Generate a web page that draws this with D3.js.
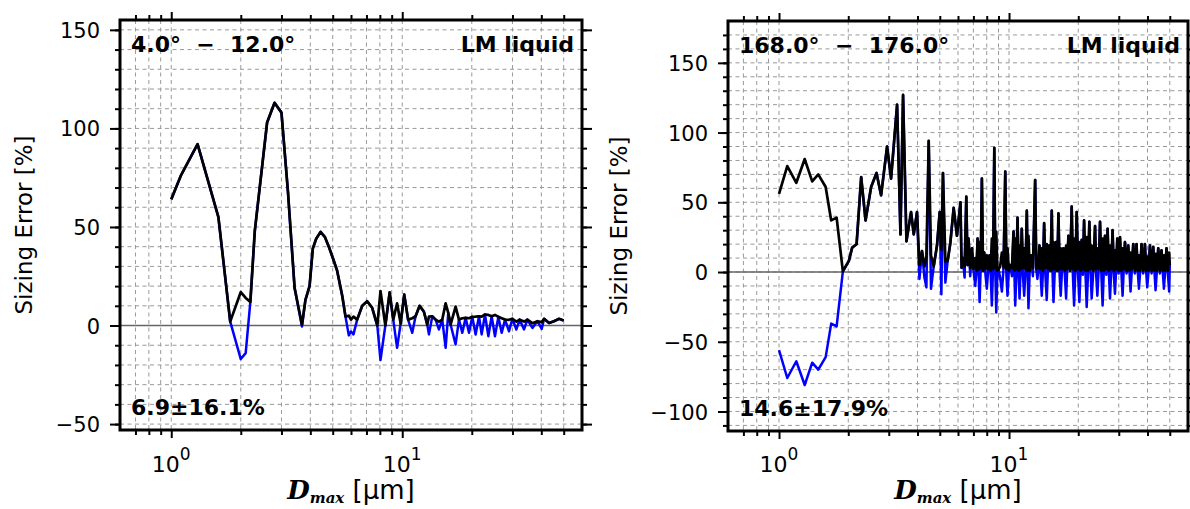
<!DOCTYPE html>
<html>
<head>
<meta charset="utf-8">
<script src="https://cdn.jsdelivr.net/npm/d3@7"></script>
<style>
  body { margin: 0; background: #fff; }
  svg { display: block; font-family: "DejaVu Sans", sans-serif; }
</style>
</head>
<body>
<svg id="chart" width="1190" height="509"></svg>
<script>
// ---- data: [Dmax (um), sizing error (%)] ----
const leftSeries = [
  [1.0,64],[1.1,76],[1.3,92],[1.6,55],[1.8,2],[2.0,-17],[2.1,-14],[2.2,12],[2.3,48],
  [2.6,103],[2.8,113],[3.0,108],[3.2,68],[3.42,19],[3.68,-0.5],[3.81,13],[3.97,20],
  [4.1,39],[4.24,44],[4.43,47.5],[4.62,45],[4.81,40],[5.05,33],[5.22,28],[5.5,15],
  [5.68,4.5],[5.87,-5],[6.0,-3],[6.15,-4.5],[6.38,3],[6.71,10],[7.05,12.3],[7.41,9],
  [7.8,0],[8.05,-17.5],[8.45,0],[8.82,16.8],[9.14,3],[9.5,-11.3],[9.84,1],[10.2,15.7],
  [10.6,3],[11.05,-3.7],[11.42,4.7],[11.89,10],[12.41,7],[12.83,0.5],[13.05,-4.5],
  [13.49,4.7],[13.94,3],[14.41,-2],[14.9,3],[15.41,-11.3],[15.82,6.4],[16.19,0.5],
  [17.02,-9.6],[17.6,3],[18.2,-3.7],[18.81,3.9],[19.45,-3.7],[20.1,4.4],[20.78,-4.5],
  [21.49,4.7],[22.07,-4.5],[22.81,5.6],[23.59,-5.4],[24.38,4.7],[25.2,-5.4],[26.06,4.4],
  [26.94,-3.7],[27.86,3],[28.99,-2.9],[29.97,3.4],[31.19,-2],[32.24,3],[33.67,-2],
  [34.81,3],[36.6,-1.2],[38.46,2.2],[40.16,-1.7],[41.11,3.4],[43.21,1.3],[45.42,2.2],
  [47.75,3.4],[50,2.5]
];

const rightSeries = [
  [1.0,-56],[1.086,-76],[1.189,-64],[1.293,-81],[1.394,-65],[1.481,-70],[1.595,-61],
  [1.686,-37],[1.78,-39],[1.895,0.5],[2.012,8],[2.08,17.5],[2.174,20],[2.276,68],
  [2.378,37],[2.514,61],[2.654,71],[2.778,55],[2.95,90],[3.07,67],[3.261,120],[3.373,27],
  [3.462,127],[3.581,22],[3.75,43],[3.853,27],[3.981,43],[4.078,-5],[4.185,15],[4.287,-4],
  [4.373,-11],[4.475,94],[4.578,-12],[4.704,4],[4.862,19],[4.995,43],[5.08,-16],[5.162,71],
  [5.287,-7.6],[5.41,8],[5.559,21],[5.745,46],[5.937,26],[6.15,50],[6.22,3],[6.3,10],
  [6.41,-4],[6.52,54],[6.6,5],[6.67,24],[6.78,-3],[6.9,17],[7.0,2],[7.13,-10],[7.22,1],
  [7.3,24],[7.38,-2],[7.45,-21.5],[7.53,3],[7.62,67],[7.71,1],[7.8,14],[7.9,-2],[8.01,-12],
  [8.12,2],[8.23,12],[8.32,-1],[8.42,-24],[8.52,2],[8.63,89],[8.71,3],[8.8,-29],[8.9,-1],
  [9.0,2],[9.15,-4],[9.31,-14],[9.47,3],[9.63,72],[9.74,-2],[9.85,-17],[9.98,1],[10.12,5],
  [10.3,-3],[10.46,29],[10.55,1],[10.64,-24],[10.76,-2],[10.89,39],[11.0,1],[11.11,-19],
  [11.23,2],[11.36,31],[11.5,-3],[11.64,-17],[11.8,2],[11.95,44],[12.05,-1],[12.15,-26],
  [12.3,1],[12.43,12],[12.7,-3],[12.99,66],[13.14,2],[13.29,-5],[13.42,3],[13.56,19],
  [13.72,-2],[13.88,-17],[14.05,1],[14.21,35],[14.4,-3],[14.59,-20],[14.76,2],[14.94,19],
  [15.14,1],[15.34,44],[15.47,-2],[15.61,-21.5],[15.82,2],[16.03,21.5],[16.21,1],[16.4,42],
  [16.59,-2],[16.78,-17],[17.0,2],[17.24,17],[17.47,-1],[17.71,-19],[17.9,2],[18.12,26],
  [18.42,1],[18.73,47],[18.95,-2],[19.18,-24],[19.43,1],[19.69,43],[19.96,-2],[20.23,-21.5],
  [20.46,1],[20.7,23],[20.95,-2],[21.2,37],[21.48,1],[21.76,-25],[22.05,-1],[22.35,36],
  [22.61,2],[22.87,-19],[23.26,1],[23.66,33],[23.93,-2],[24.21,-17],[24.54,2],[24.87,36],
  [25.2,-1],[25.52,-24],[25.83,1],[26.14,26],[26.48,-2],[26.83,31],[27.15,1],[27.48,-19],
  [27.84,2],[28.2,30],[28.54,-1],[28.88,-15.5],[29.22,2],[29.56,24],[29.96,-1],[30.37,25],
  [30.77,1],[31.17,-17],[31.54,2],[31.92,21.5],[32.45,-1],[32.99,19],[33.38,1],[33.76,-14],
  [34.22,2],[34.68,20],[35.26,-1],[35.84,20],[36.27,1],[36.71,-12],[37.2,1],[37.68,20],
  [38.33,-1],[38.99,20],[39.44,1],[39.89,-11],[40.44,1],[40.99,19],[41.68,-1],[42.37,18],
  [42.86,1],[43.36,-13],[43.95,1],[44.54,17],[45.28,-1],[46.03,15.5],[46.58,1],[47.14,-12],
  [47.76,1],[48.38,17],[49.04,-1],[49.7,-14],[50,5]
];

// axis ticks
const xMajor = [1, 10];
const xMinor = [0.7, 0.8, 0.9, 2, 3, 4, 5, 6, 7, 8, 9, 20, 30, 40, 50];
const xLabels = [["10", "0"], ["10", "1"]];

const leftYMajor = [-50, 0, 50, 100, 150];
const leftYMinor = [-50,-40,-30,-20,-10,0,10,20,30,40,50,60,70,80,90,100,110,120,130,140,150];
const rightYMajor = [-100, -50, 0, 50, 100, 150];
const rightYMinor = [-110,-100,-90,-80,-70,-60,-50,-40,-30,-20,-10,0,10,20,30,40,50,60,70,80,90,100,110,120,130,140,150,160,170];

const panels = [
  { series: leftSeries, yDomain: [-53, 155], yMajor: leftYMajor, yMinor: leftYMinor,
    left: 120, right: 582, top: 20, bottom: 430,
    angle: "4.0°  \u2212  12.0°", stat: "6.9±16.1%", titleX: 32 },
  { series: rightSeries, yDomain: [-114, 180], yMajor: rightYMajor, yMinor: rightYMinor,
    left: 728, right: 1188, top: 21, bottom: 431,
    angle: "168.0°  \u2212  176.0°", stat: "14.6±17.9%", titleX: 627 }
];

const svg = d3.select("#chart");

panels.forEach(function(p, i) {
  const x = d3.scaleLog().domain([0.6, 60]).range([p.left, p.right]);
  const y = d3.scaleLinear().domain(p.yDomain).range([p.bottom, p.top]);
  const g = svg.append("g");

  // dashed grid
  g.append("g").selectAll("line")
    .data(p.yMinor.filter(v => v > p.yDomain[0] && v < p.yDomain[1]))
    .join("line")
      .attr("x1", p.left).attr("x2", p.right)
      .attr("y1", d => y(d)).attr("y2", d => y(d))
      .attr("stroke", "#999").attr("stroke-width", 1)
      .attr("stroke-dasharray", "4,3.5");
  g.append("g").selectAll("line")
    .data(xMajor.concat(xMinor))
    .join("line")
      .attr("x1", d => x(d)).attr("x2", d => x(d))
      .attr("y1", p.top).attr("y2", p.bottom)
      .attr("stroke", "#999").attr("stroke-width", 1)
      .attr("stroke-dasharray", "4,3.5");

  // zero line
  g.append("line")
    .attr("x1", p.left).attr("x2", p.right)
    .attr("y1", y(0)).attr("y2", y(0))
    .attr("stroke", "#666").attr("stroke-width", 1.5);

  // clip
  g.append("clipPath").attr("id", "clip" + i)
    .append("rect")
      .attr("x", p.left).attr("y", p.top)
      .attr("width", p.right - p.left).attr("height", p.bottom - p.top);

  const signed = d3.line().x(d => x(d[0])).y(d => y(d[1]));
  const absolute = d3.line().x(d => x(d[0])).y(d => y(Math.abs(d[1])));

  g.append("path").datum(p.series)
    .attr("clip-path", "url(#clip" + i + ")")
    .attr("d", signed)
    .attr("fill", "none").attr("stroke", "#0000ff")
    .attr("stroke-width", 2.5).attr("stroke-linejoin", "round");
  g.append("path").datum(p.series)
    .attr("clip-path", "url(#clip" + i + ")")
    .attr("d", absolute)
    .attr("fill", "none").attr("stroke", "#000")
    .attr("stroke-width", 2.7).attr("stroke-linejoin", "round");

  // axes (ticks outward on all four sides)
  function styleAxis(sel) {
    sel.select(".domain").remove();
    sel.selectAll(".tick line").attr("stroke", "#000").attr("stroke-width", 2);
  }
  g.append("g").attr("transform", `translate(${p.left},0)`)
    .call(d3.axisLeft(y).tickValues(p.yMinor).tickSize(5).tickFormat(""))
    .call(styleAxis);
  g.append("g").attr("transform", `translate(${p.left},0)`)
    .call(d3.axisLeft(y).tickValues(p.yMajor).tickSize(10).tickPadding(10))
    .call(styleAxis)
    .call(s => s.selectAll("text")
      .attr("font-family", "DejaVu Sans").attr("font-size", 21)
      .attr("fill", "#000").attr("dy", "0.36em"));
  g.append("g").attr("transform", `translate(${p.right},0)`)
    .call(d3.axisRight(y).tickValues(p.yMinor).tickSize(5).tickFormat(""))
    .call(styleAxis);
  g.append("g").attr("transform", `translate(${p.right},0)`)
    .call(d3.axisRight(y).tickValues(p.yMajor).tickSize(10).tickFormat(""))
    .call(styleAxis);
  [[d3.axisTop, p.top], [d3.axisBottom, p.bottom]].forEach(function(a) {
    g.append("g").attr("transform", `translate(0,${a[1]})`)
      .call(a[0](x).tickValues(xMinor).tickSize(5).tickFormat(""))
      .call(styleAxis);
    g.append("g").attr("transform", `translate(0,${a[1]})`)
      .call(a[0](x).tickValues(xMajor).tickSize(8).tickFormat(""))
      .call(styleAxis);
  });

  // frame
  g.append("rect")
    .attr("x", p.left).attr("y", p.top)
    .attr("width", p.right - p.left).attr("height", p.bottom - p.top)
    .attr("fill", "none").attr("stroke", "#000").attr("stroke-width", 3);

  // decade labels 10^n
  xMajor.forEach(function(v, k) {
    const t = g.append("text")
      .attr("x", x(v)).attr("y", 472)
      .attr("text-anchor", "middle").attr("font-size", 22);
    t.append("tspan").text(xLabels[k][0]);
    t.append("tspan").attr("dy", -12).attr("font-size", 17).text(xLabels[k][1]);
  });

  // x title
  const xt = g.append("text")
    .attr("x", (p.left + p.right) / 2).attr("y", 499)
    .attr("text-anchor", "middle").attr("font-size", 26);
  xt.append("tspan").attr("font-family", "DejaVu Serif")
    .attr("font-style", "italic").attr("font-weight", "bold").text("D");
  xt.append("tspan").attr("font-family", "DejaVu Serif")
    .attr("font-style", "italic").attr("font-weight", "bold")
    .attr("font-size", 15).attr("dy", 4).text("max");
  xt.append("tspan").attr("dy", -4).style("white-space", "pre").text(" [μm]");

  // y title
  g.append("text")
    .attr("transform", `translate(${p.titleX},${(p.top + p.bottom) / 2}) rotate(-90)`)
    .attr("text-anchor", "middle").attr("font-size", 23)
    .text("Sizing Error [%]");

  // annotations
  g.append("text")
    .attr("x", p.left + 11).attr("y", p.top + 32)
    .attr("font-size", 22).attr("font-weight", "bold")
    .style("white-space", "pre")
    .text(p.angle);
  g.append("text")
    .attr("x", p.right - 8).attr("y", p.top + 32)
    .attr("text-anchor", "end")
    .attr("font-size", 22).attr("font-weight", "bold")
    .text("LM liquid");
  g.append("text")
    .attr("x", p.left + 11).attr("y", p.bottom - 15)
    .attr("font-size", 22).attr("font-weight", "bold")
    .text(p.stat);
});
</script>
</body>
</html>
